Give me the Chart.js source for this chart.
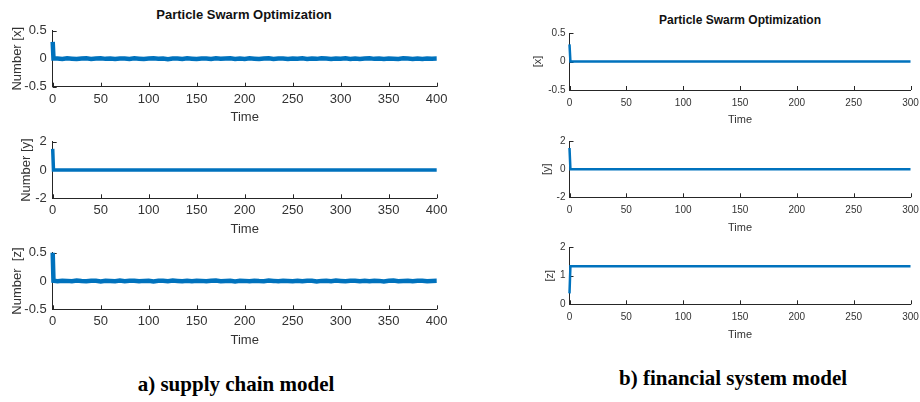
<!DOCTYPE html>
<html>
<head>
<meta charset="utf-8">
<script src="https://cdn.jsdelivr.net/npm/chart.js@4.4.0/dist/chart.umd.min.js"></script>
<style>
  body { margin: 0; background: #fff; width: 920px; height: 402px; position: relative; overflow: hidden; font-family: "Liberation Sans", Arial, sans-serif; }
  canvas { position: absolute; }
  .titulo { position: absolute; font-weight: bold; color: #111; white-space: nowrap; transform: translateX(-50%); }
  .pie { position: absolute; font-family: "Liberation Serif", "Times New Roman", serif; font-weight: bold; font-size: 21px; line-height: 21px; color: #000; white-space: nowrap; transform: translateX(-50%); }
</style>
</head>
<body>
<div class="titulo" style="left:244px; top:8px; font-size:13px; line-height:13px;">Particle Swarm Optimization</div>
<div class="titulo" style="left:740px; top:14px; font-size:12px; line-height:12px;">Particle Swarm Optimization</div>
<div class="pie" style="left:236px; top:374px;">a) supply chain model</div>
<div class="pie" style="left:733px; top:368px;">b) financial system model</div>

<script>
// a) supply chain model
const tiempoSuministro = [0, 0.8, 5, 10, 15, 20, 25, 30, 35, 40, 45, 50, 55, 60, 65, 70, 75, 80, 85, 90, 95, 100,
  105, 110, 115, 120, 125, 130, 135, 140, 145, 150, 155, 160, 165, 170, 175, 180, 185, 190, 195, 200,
  205, 210, 215, 220, 225, 230, 235, 240, 245, 250, 255, 260, 265, 270, 275, 280, 285, 290, 295, 300,
  305, 310, 315, 320, 325, 330, 335, 340, 345, 350, 355, 360, 365, 370, 375, 380, 385, 390, 395, 400];

const suministroX = [0.3, 0.006,
  0.006, -0.003, 0.008, 0.002, -0.005, 0.004, 0.007, -0.004, 0.003, 0.009,
  -0.002, 0.005, -0.006, 0.003, 0.006, -0.003, 0.008, 0.001, -0.005, 0.004,
  0.007, -0.002, 0.005, -0.007, 0.003, 0.006, -0.003, 0.009, 0.002, -0.004,
  0.006, 0.003, -0.005, 0.007, -0.002, 0.004, 0.008, -0.004, 0.003, -0.003,
  0.007, 0.001, -0.005, 0.005, 0.008, -0.003, 0.003, 0.006, -0.006, 0.004,
  0.002, 0.007, -0.004, 0.004, -0.002, 0.008, 0.003, -0.005, 0.005, 0.001,
  0.007, -0.003, 0.005, -0.005, 0.003, 0.009, -0.002, 0.004, -0.006, 0.006,
  0.002, -0.004, 0.007, 0.003, -0.003, 0.006, -0.005, 0.005, 0.002, 0.004];

const suministroZ = [0.5, 0.006,
  -0.003, 0.007, 0.003, -0.005, 0.008, 0.001, -0.004, 0.006, 0.004, -0.006,
  0.005, 0.002, -0.003, 0.009, -0.002, 0.004, 0.007, -0.005, 0.003, 0.005,
  -0.006, 0.004, 0.006, -0.002, 0.008, 0.002, -0.004, 0.006, -0.003, 0.007,
  0.003, -0.005, 0.005, 0.009, -0.003, 0.002, 0.006, -0.006, 0.004, 0.003,
  -0.004, 0.007, 0.001, -0.003, 0.008, 0.003, -0.005, 0.005, 0.002, -0.002,
  0.007, -0.004, 0.004, 0.006, -0.006, 0.003, 0.005, -0.003, 0.008, 0.001,
  -0.005, 0.004, 0.007, -0.002, 0.005, -0.004, 0.006, 0.003, -0.006, 0.004,
  0.008, -0.003, 0.002, 0.006, -0.004, 0.004, 0.007, -0.002, 0.003, 0.005];

const tiempoSuministroY = [0, 0.8, 400];
const suministroY = [1.5, 0, 0];

// b) financial system model
const tiempoFinanciero = [0, 0.8, 300];
const financieroX = [0.3, 0, 0];
const financieroY = [1.5, 0, 0];
const financieroZ = [0.38, 1.33, 1.33];

const azul = '#0072BD';
const gris = '#262626';

// marcas de los ejes hacia adentro, como en matlab
const marcasInternas = {
  id: 'marcasInternas',
  beforeDatasetsDraw(chart) {
    const { ctx, chartArea, scales } = chart;
    ctx.save();
    ctx.strokeStyle = gris;
    ctx.lineWidth = 1;
    ctx.beginPath();
    scales.x.ticks.forEach(t => {
      const px = Math.round(scales.x.getPixelForValue(t.value)) + 0.5;
      ctx.moveTo(px, chartArea.bottom);
      ctx.lineTo(px, chartArea.bottom - 4);
    });
    scales.y.ticks.forEach(t => {
      const py = Math.round(scales.y.getPixelForValue(t.value)) + 0.5;
      ctx.moveTo(chartArea.left, py);
      ctx.lineTo(chartArea.left + 4, py);
    });
    ctx.stroke();
    ctx.restore();
  }
};

let crearPanel = (p) => {
  const canvas = document.createElement('canvas');
  const arriba = Math.floor(p.area.top) - 8;
  const alto = Math.ceil(p.area.bottom) + 45 - arriba;
  const ancho = p.derecha - p.izquierda;
  canvas.width = ancho;
  canvas.height = alto;
  canvas.style.left = p.izquierda + 'px';
  canvas.style.top = arriba + 'px';
  canvas.style.width = ancho + 'px';
  canvas.style.height = alto + 'px';
  document.body.appendChild(canvas);

  const altoX = arriba + alto - p.area.bottom;
  const lhTick = p.fTick * 1.2;
  const lhTitulo = p.fTitulo * 1.2;

  new Chart(canvas, {
    type: 'line',
    data: {
      datasets: [{
        data: p.tiempo.map((t, i) => ({ x: t, y: p.valores[i] })),
        borderColor: azul,
        borderWidth: p.grosor,
        pointRadius: 0,
        tension: 0,
        fill: false,
        clip: false
      }]
    },
    options: {
      responsive: false,
      animation: false,
      events: [],
      layout: {
        padding: { top: p.area.top - arriba, right: p.derecha - p.area.right, left: 0, bottom: 0 }
      },
      plugins: { legend: { display: false }, tooltip: { enabled: false } },
      scales: {
        x: {
          type: 'linear',
          min: 0,
          max: p.xMax,
          grid: { display: false, drawTicks: false },
          border: { display: true, color: gris, width: 1 },
          ticks: {
            stepSize: 50, color: '#333', autoSkip: false, maxRotation: 0,
            font: { family: 'Liberation Sans', size: p.fTick },
            padding: p.ticksY - p.area.bottom - lhTick / 2
          },
          title: {
            display: true, text: 'Time', color: '#333',
            font: { family: 'Liberation Sans', size: p.fTitulo },
            padding: { top: 0, bottom: altoX - (p.timeY - p.area.bottom) - lhTitulo / 2 }
          },
          afterFit: (s) => { s.height = altoX; }
        },
        y: {
          min: p.yMin,
          max: p.yMax,
          grid: { display: false, drawTicks: false },
          border: { display: true, color: gris, width: 1 },
          ticks: {
            stepSize: p.yPaso, color: '#333',
            font: { family: 'Liberation Sans', size: p.fTick },
            padding: p.padY
          },
          title: {
            display: true, text: p.etiqueta, color: '#333',
            font: { family: 'Liberation Sans', size: p.fTitulo },
            padding: { top: p.etiquetaX - p.izquierda - lhTitulo / 2, bottom: 0 }
          },
          afterFit: (s) => { s.width = p.area.left - p.izquierda; }
        }
      }
    },
    plugins: [marcasInternas]
  });
};

// la columna derecha sale un poco del borde, como el "300" cortado del original
const izq = { izquierda: 0, derecha: 460, xMax: 400, fTick: 13, fTitulo: 13, padY: 6, grosor: 4.5 };
const der = { izquierda: 520, derecha: 950, xMax: 300, fTick: 10, fTitulo: 11, padY: 4, grosor: 2.5 };

crearPanel({ ...izq, tiempo: tiempoSuministro, valores: suministroX, etiqueta: 'Number [x]',
  area: { left: 52.7, right: 436.7, top: 25.3, bottom: 86.7 }, yMin: -0.5, yMax: 0.5, yPaso: 0.5,
  ticksY: 99, timeY: 117.5, etiquetaX: 17 });
crearPanel({ ...izq, tiempo: tiempoSuministroY, valores: suministroY, etiqueta: 'Number [y]', grosor: 3.5,
  area: { left: 52.7, right: 436.7, top: 136, bottom: 198.3 }, yMin: -2, yMax: 2, yPaso: 2,
  ticksY: 210.7, timeY: 229, etiquetaX: 26.7 });
crearPanel({ ...izq, tiempo: tiempoSuministro, valores: suministroZ, etiqueta: 'Number  [z]',
  area: { left: 52.7, right: 436.7, top: 247.3, bottom: 309.3 }, yMin: -0.5, yMax: 0.5, yPaso: 0.5,
  ticksY: 321.7, timeY: 340, etiquetaX: 17 });

crearPanel({ ...der, tiempo: tiempoFinanciero, valores: financieroX, etiqueta: '[x]',
  area: { left: 569.5, right: 910.5, top: 31.7, bottom: 90 }, yMin: -0.5, yMax: 0.5, yPaso: 0.5,
  ticksY: 103.3, timeY: 120, etiquetaX: 538 });
crearPanel({ ...der, tiempo: tiempoFinanciero, valores: financieroY, etiqueta: '[y]',
  area: { left: 569.5, right: 910.5, top: 139, bottom: 197.3 }, yMin: -2, yMax: 2, yPaso: 2,
  ticksY: 210.7, timeY: 227.5, etiquetaX: 547.3 });
crearPanel({ ...der, tiempo: tiempoFinanciero, valores: financieroZ, etiqueta: '[z]',
  area: { left: 569.5, right: 910.5, top: 245.7, bottom: 304.3 }, yMin: 0, yMax: 2, yPaso: 1,
  ticksY: 317.3, timeY: 334.5, etiquetaX: 550 });
</script>
</body>
</html>
